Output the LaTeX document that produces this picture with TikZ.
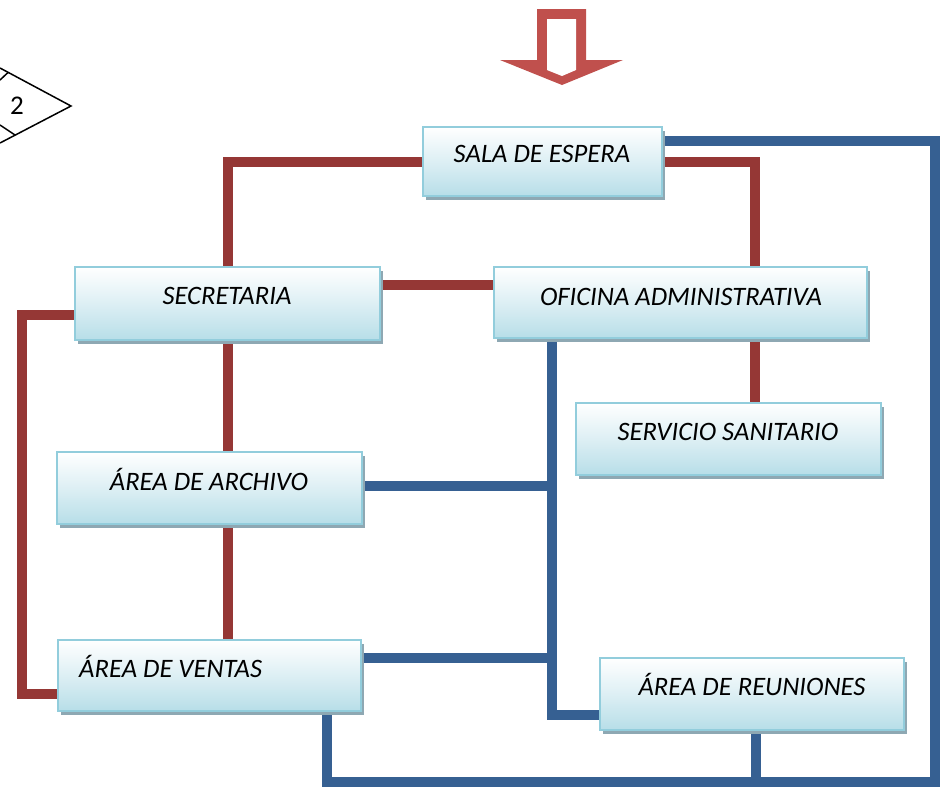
\documentclass[tikz,border=0pt]{standalone}
\usepackage{fontspec}
\setmainfont{Carlito}
\usetikzlibrary{shadows}
\definecolor{redl}{HTML}{953735}
\definecolor{bluel}{HTML}{366092}
\definecolor{arrowc}{HTML}{C0504D}
\definecolor{boxb}{HTML}{92CDDC}
\definecolor{boxf}{HTML}{B7DEE8}
\definecolor{boxm}{HTML}{DDEFF4}
\definecolor{shadowc}{HTML}{8EA8B3}
\pgfdeclarelayer{bg}
\pgfsetlayers{bg,main}
\tikzset{
  roombox/.style={draw=boxb, line width=2.5pt, top color=white, bottom color=boxf, middle color=boxm,
    general shadow={fill=shadowc, shadow xshift=3pt, shadow yshift=-4pt},
    inner sep=0pt, outer sep=0pt, anchor=north west},
  lbl/.style={font=\fontsize{26.6}{30}\selectfont\itshape, inner sep=0pt, anchor=base},
  redc/.style={draw=redl, line width=10pt, line join=miter},
  bluec/.style={draw=bluel, line width=10pt, line join=miter}
}
\begin{document}
\begin{tikzpicture}[x=1pt,y=-1pt]
\useasboundingbox (0,0) rectangle (943,788);
% entry arrow
\fill[arrowc] (537,9) -- (586,9) -- (586,60) -- (623,60) -- (562,85) -- (500,60) -- (537,60) -- cycle;
\fill[white] (547,19) -- (576,19) -- (576,70) -- (562,76) -- (547,70) -- cycle;
% off-page connector
\draw[line width=1.5pt, line join=miter] (0,68) -- (71,106) -- (0,143);
\draw[line width=1.5pt] (0,80) -- (8,72.5);
\draw[line width=1.5pt] (0,125) -- (15,135);
\node[font=\fontsize{27}{30}\selectfont, inner sep=0pt] (conn) at (17,106) {2};
% boxes
\node[roombox, minimum width=239pt, minimum height=69pt] (sala) at (423,127) {};
\node[roombox, minimum width=305pt, minimum height=73pt] (secr) at (75,267) {};
\node[roombox, minimum width=373pt, minimum height=71pt] (ofi) at (494,267) {};
\node[roombox, minimum width=305pt, minimum height=72pt] (serv) at (576,403) {};
\node[roombox, minimum width=305pt, minimum height=72pt] (arch) at (57,452) {};
\node[roombox, minimum width=303pt, minimum height=71pt] (vent) at (58,640) {};
\node[roombox, minimum width=304pt, minimum height=72pt] (reun) at (600,658) {};
% labels
\node[lbl] (tsala) at (542,162) {SALA DE ESPERA};
\node[lbl] (tsecr) at (227,304) {SECRETARIA};
\node[lbl] (tofi) at (681,305) {OFICINA ADMINISTRATIVA};
\node[lbl] (tserv) at (728,440) {SERVICIO SANITARIO};
\node[lbl] (tarch) at (209,490) {ÁREA DE ARCHIVO};
\node[lbl, anchor=base west] (tvent) at (79,677) {ÁREA DE VENTAS};
\node[lbl] (treun) at (752,695) {ÁREA DE REUNIONES};
% attachment points
\coordinate (ofiN) at (755,267);
\coordinate (secE) at (380,285);
\coordinate (secW) at (75,315);
\coordinate (bl) at (22,694);
\coordinate (ventW) at (58,694);
\coordinate (salaB) at (662,141);
\coordinate (br) at (935,782);
\coordinate (ventS) at (327,711);
\coordinate (ofiB) at (552,338);
\coordinate (reunW) at (600,715);
\coordinate (archE) at (363,486);
\coordinate (ventE) at (361,658);
\coordinate (reunS) at (756,730);
\begin{pgfonlayer}{bg}
\draw[redc] (sala.west) -| (secr.north);
\draw[redc] (sala.east) -| (ofiN);
\draw[redc] (secE) -- (secE -| ofi.west);
\draw[redc] (secW) -| (bl) -- (ventW);
\draw[redc] (secr.south) -- (secr.south |- arch.north);
\draw[redc] (secr.south |- arch.south) -- (secr.south |- vent.north);
\draw[redc] (ofiN |- ofi.south) -- (ofiN |- serv.north);
\draw[bluec] (salaB) -| (br) -| (ventS);
\draw[bluec] (ofiB) |- (reunW);
\draw[bluec] (archE) -- (archE -| ofiB);
\draw[bluec] (ventE) -- (ventE -| ofiB);
\draw[bluec] (reunS) -- (reunS |- br);
\end{pgfonlayer}
\end{tikzpicture}
\end{document}
